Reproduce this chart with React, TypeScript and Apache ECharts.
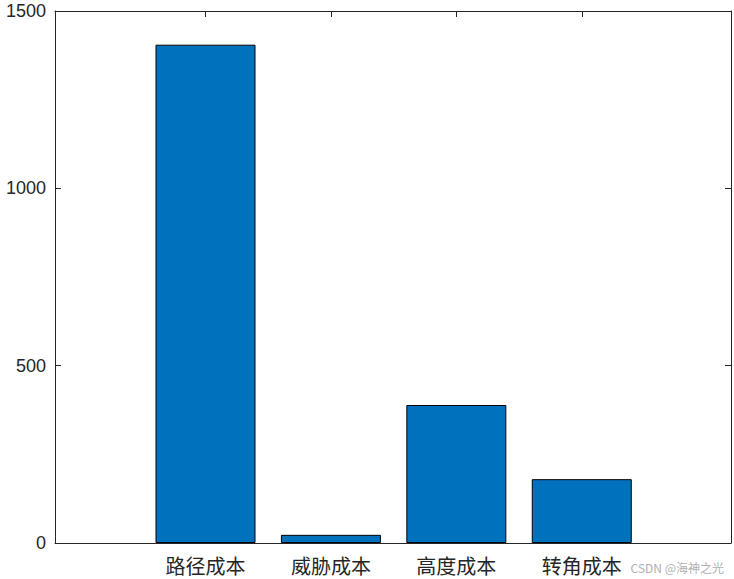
import React, { useEffect, useRef } from 'react';
import * as echarts from 'echarts';

const categories = ['路径成本', '威胁成本', '高度成本', '转角成本'];
const positions = [1, 2, 3, 4];
const costs = [1405, 23, 389, 180];

const AXIS_COLOR = '#262626';
const BAR_COLOR = '#0072BD';

const App: React.FC = () => {
  const chartRef = useRef<HTMLDivElement>(null);

  useEffect(() => {
    if (!chartRef.current) return;
    const chart = echarts.init(chartRef.current, undefined, { renderer: 'svg' });

    const xCommon = {
      type: 'value' as const,
      min: -0.2,
      max: 5.19,
      splitLine: { show: false },
      axisLine: { show: true, onZero: false, lineStyle: { color: AXIS_COLOR, width: 1 } },
      axisTick: {
        show: true,
        inside: true,
        length: 6,
        customValues: positions,
        lineStyle: { color: AXIS_COLOR },
      },
    };
    const yCommon = {
      type: 'value' as const,
      min: 0,
      max: 1500,
      interval: 500,
      splitLine: { show: false },
      axisLine: { show: true, onZero: false, lineStyle: { color: AXIS_COLOR, width: 1 } },
      axisTick: { show: true, inside: true, length: 6, lineStyle: { color: AXIS_COLOR } },
    };

    chart.setOption({
      animation: false,
      backgroundColor: '#ffffff',
      grid: {
        left: 55,
        right: 3,
        top: 11,
        bottom: 36,
        containLabel: false,
        outerBoundsMode: 'none',
      },
      xAxis: [
        {
          ...xCommon,
          position: 'bottom',
          axisLabel: {
            show: true,
            customValues: positions,
            margin: 12,
            color: AXIS_COLOR,
            fontSize: 20,
            fontFamily: '"Noto Sans CJK SC", sans-serif',
            formatter: (v: number) => categories[positions.indexOf(v)] ?? '',
          },
        },
        { ...xCommon, position: 'top', axisLabel: { show: false } },
      ],
      yAxis: [
        {
          ...yCommon,
          position: 'left',
          axisLabel: {
            show: true,
            margin: 9,
            color: AXIS_COLOR,
            fontSize: 18,
            fontFamily: 'Arial, "Liberation Sans", sans-serif',
            formatter: (v: number) => String(v),
          },
        },
        { ...yCommon, position: 'right', axisLabel: { show: false } },
      ],
      series: [
        {
          type: 'bar',
          xAxisIndex: 0,
          yAxisIndex: 0,
          barWidth: 100,
          data: positions.map((p, i) => [p, costs[i]]),
          itemStyle: { color: BAR_COLOR, borderColor: '#000000', borderWidth: 1 },
        },
      ],
      graphic: [
        {
          type: 'text',
          right: 10,
          bottom: 6,
          style: {
            text: 'CSDN @海神之光',
            fill: '#b0b0b0',
            fontSize: 12,
            fontFamily: '"Noto Sans CJK SC", sans-serif',
          },
        },
      ],
    });

    return () => chart.dispose();
  }, []);

  return (
    <div
      ref={chartRef}
      style={{ position: 'absolute', left: 0, top: 0, width: 734, height: 579 }}
    />
  );
};

export default App;
